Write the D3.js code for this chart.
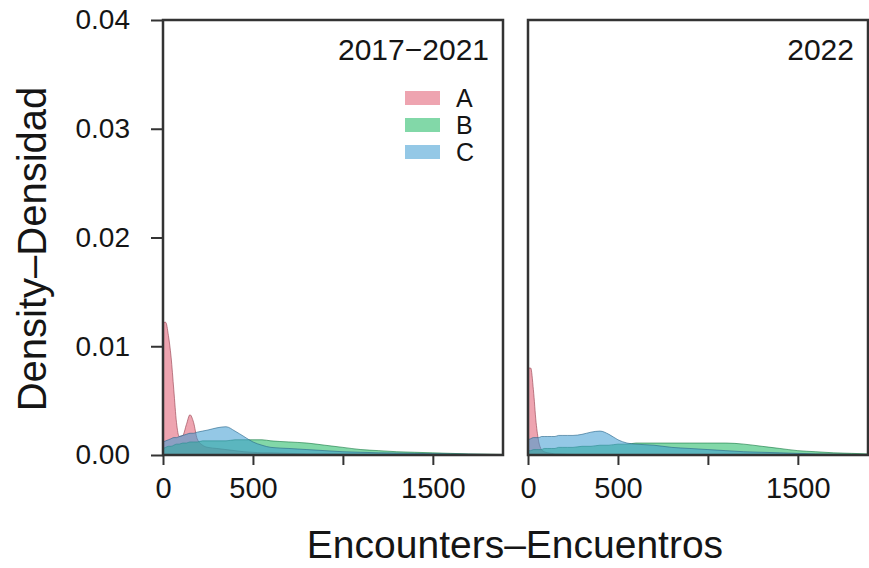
<!DOCTYPE html>
<html>
<head>
<meta charset="utf-8">
<script src="https://cdn.jsdelivr.net/npm/d3@7"></script>
<style>
  html, body { margin: 0; padding: 0; background: #fff; }
  svg { display: block; font-family: "Liberation Sans", Arial, Helvetica, sans-serif; }
</style>
</head>
<body>
<svg id="chart" width="869" height="568"></svg>
<script>
// Panels (periods) and groups
const periods = ["2017\u22122021", "2022"];
const groups = ["A", "B", "C"];
const groupColors = ["#e05a70", "#1cb860", "#3c9ad2"];

// Shared evaluation grid for the density curves (encounters)
const encounterGrid = [0, 15, 30, 45, 60, 75, 90, 110, 130, 150, 170, 190, 220, 250, 300, 350, 400, 450, 500, 550, 600, 700, 800, 900, 1000, 1100, 1200, 1300, 1400, 1500, 1600, 1700, 1800, 1890];

// 2017-2021 densities
const densityA2017 = [0.0122, 0.0122, 0.0110, 0.0090, 0.0060, 0.0030, 0.0017, 0.0018, 0.0028, 0.0037, 0.0030, 0.0015, 0.0009, 0.0007, 0.0006, 0.0005, 0.0004, 0.0003, 0.00025, 0.0002, 0.0002, 0.00015, 0.0001, 0.0001, 0.00008, 0.00006, 0.00005, 0.00004, 0.00003, 0.00003, 0.00002, 0.00002, 0.00001, 0.00001];
const densityB2017 = [0.0006, 0.0007, 0.0008, 0.0008, 0.0009, 0.0010, 0.0010, 0.0011, 0.0011, 0.0012, 0.0012, 0.0012, 0.0013, 0.0013, 0.0013, 0.0013, 0.0014, 0.0014, 0.0014, 0.0014, 0.0013, 0.0012, 0.0011, 0.0009, 0.0007, 0.0005, 0.0004, 0.0003, 0.00025, 0.0002, 0.00015, 0.0001, 0.00008, 0.00005];
const densityC2017 = [0.0012, 0.0013, 0.0014, 0.0015, 0.0016, 0.0016, 0.0017, 0.0018, 0.0019, 0.0020, 0.0020, 0.0021, 0.0022, 0.0023, 0.0025, 0.0026, 0.0022, 0.0017, 0.0012, 0.0009, 0.0007, 0.0006, 0.0005, 0.0004, 0.0003, 0.00025, 0.0002, 0.00018, 0.00015, 0.00012, 0.0001, 0.00008, 0.00005, 0.00003];

// 2022 densities
const densityA2022 = [0.0080, 0.0080, 0.0060, 0.0030, 0.0012, 0.0005, 0.0003, 0.0002, 0.00015, 0.0001, 0.0001, 0.00008, 0.00006, 0.00005, 0.00004, 0.00003, 0.00003, 0.00002, 0.00002, 0.00002, 0.00001, 0.00001, 0.00001, 0.00001, 0.00001, 0, 0, 0, 0, 0, 0, 0, 0, 0];
const densityB2022 = [0.0004, 0.0004, 0.0005, 0.0005, 0.0005, 0.0005, 0.0006, 0.0006, 0.0006, 0.0006, 0.0007, 0.0007, 0.0007, 0.0007, 0.0008, 0.0008, 0.0009, 0.0009, 0.0010, 0.0010, 0.0011, 0.0011, 0.0011, 0.0011, 0.0011, 0.0011, 0.0010, 0.0008, 0.0006, 0.0004, 0.0003, 0.0002, 0.00015, 0.0001];
const densityC2022 = [0.0014, 0.0015, 0.0016, 0.0016, 0.0016, 0.0017, 0.0017, 0.0017, 0.0017, 0.0017, 0.0018, 0.0018, 0.0018, 0.0018, 0.0019, 0.0021, 0.0022, 0.0019, 0.0014, 0.0011, 0.0010, 0.0009, 0.0007, 0.0006, 0.0005, 0.0004, 0.0003, 0.00025, 0.0002, 0.00015, 0.0001, 0.00008, 0.00005, 0.00003];

// Axis ticks
const yTicks = [0, 0.01, 0.02, 0.03, 0.04];
const xTicks = [0, 500, 1000, 1500];
const xTickLabels = ["0", "500", "", "1500"];

const panelDensities = [
  [densityA2017, densityB2017, densityC2017],
  [densityA2022, densityB2022, densityC2022]
];

const svg = d3.select("#chart");
const panelLefts = [163, 528];
const panelWidth = 340;
const plotTop = 20, plotBottom = 455;
const ink = "#151515";

const y = d3.scaleLinear().domain([0, 0.04]).range([plotBottom, plotTop]);

panelLefts.forEach((left, p) => {
  const x = d3.scaleLinear().domain([0, 1890]).range([left, left + panelWidth]);
  const g = svg.append("g");

  const area = d3.area()
    .x((d, i) => x(encounterGrid[i]))
    .y0(y(0))
    .y1(d => y(d))
    .curve(d3.curveMonotoneX);

  const line = d3.line()
    .x((d, i) => x(encounterGrid[i]))
    .y(d => y(d))
    .curve(d3.curveMonotoneX);

  panelDensities[p].forEach((dens, k) => {
    g.append("path")
      .attr("d", area(dens))
      .attr("fill", groupColors[k])
      .attr("fill-opacity", 0.55);
    g.append("path")
      .attr("d", line(dens))
      .attr("fill", "none")
      .attr("stroke", d3.color(groupColors[k]).darker(1.2))
      .attr("stroke-opacity", 0.6)
      .attr("stroke-width", 1);
  });

  // Frame
  g.append("rect")
    .attr("x", left).attr("y", plotTop)
    .attr("width", panelWidth).attr("height", plotBottom - plotTop)
    .attr("fill", "none")
    .attr("stroke", "#333")
    .attr("stroke-width", 2.5);

  // X axis
  const xAxis = d3.axisBottom(x)
    .tickValues(xTicks)
    .tickSize(10)
    .tickPadding(12)
    .tickFormat((d, i) => xTickLabels[i]);
  const xa = g.append("g").attr("transform", `translate(0,${plotBottom})`).call(xAxis);
  xa.select(".domain").remove();
  xa.selectAll(".tick line").attr("stroke", "#333").attr("stroke-width", 2);
  xa.selectAll(".tick text")
    .attr("font-size", 29)
    .attr("fill", ink)
    .attr("font-family", "Liberation Sans, Arial, sans-serif");

  // Panel title
  g.append("text")
    .attr("x", left + panelWidth - 14)
    .attr("y", 60)
    .attr("text-anchor", "end")
    .attr("font-size", 30)
    .attr("fill", ink)
    .text(periods[p]);
});

// Y axis (left panel only)
const yAxis = d3.axisLeft(y)
  .tickValues(yTicks)
  .tickSize(12)
  .tickPadding(21)
  .tickFormat(d3.format(".2f"));
const ya = svg.append("g").attr("transform", `translate(${panelLefts[0]},0)`).call(yAxis);
ya.select(".domain").remove();
ya.selectAll(".tick line").attr("stroke", "#333").attr("stroke-width", 2);
ya.selectAll(".tick text")
  .attr("font-size", 28)
  .attr("fill", ink)
  .attr("font-family", "Liberation Sans, Arial, sans-serif");

// Legend
const legend = svg.append("g").attr("transform", "translate(405,91)");
groups.forEach((name, k) => {
  legend.append("rect")
    .attr("x", 0).attr("y", k * 27)
    .attr("width", 35).attr("height", 14)
    .attr("fill", groupColors[k])
    .attr("fill-opacity", 0.55);
  legend.append("text")
    .attr("x", 51).attr("y", k * 27 + 16)
    .attr("font-size", 25)
    .attr("fill", ink)
    .text(name);
});

// Axis titles
svg.append("text")
  .attr("x", 515).attr("y", 558)
  .attr("text-anchor", "middle")
  .attr("font-size", 39)
  .attr("fill", ink)
  .text("Encounters\u2013Encuentros");

svg.append("text")
  .attr("transform", "translate(46,249) rotate(-90)")
  .attr("text-anchor", "middle")
  .attr("font-size", 40)
  .attr("fill", ink)
  .text("Density\u2013Densidad");
</script>
</body>
</html>
